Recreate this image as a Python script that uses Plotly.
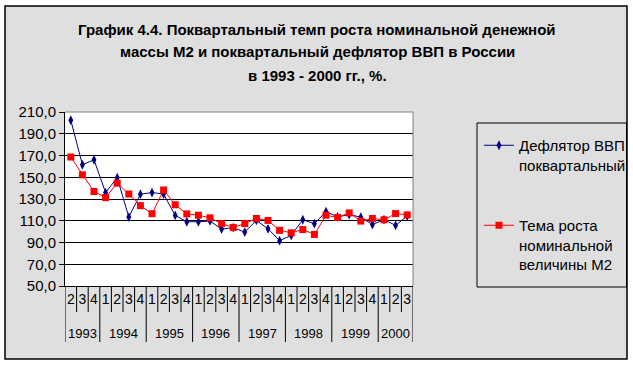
import plotly.graph_objects as go

years = ["1993"] * 3 + ["1994"] * 4 + ["1995"] * 4 + ["1996"] * 4 + ["1997"] * 4 + ["1998"] * 4 + ["1999"] * 4 + ["2000"] * 3
quarters = ["2", "3", "4"] + ["1", "2", "3", "4"] * 6 + ["1", "2", "3"]

deflator = [202.5, 161.5, 166.0, 135.9, 149.6, 113.4, 134.4, 135.9, 134.6, 114.9,
            109.1, 109.1, 109.8, 102.3, 103.6, 99.6, 110.3, 102.6, 91.7, 96.5,
            110.9, 107.3, 118.4, 113.5, 115.7, 113.3, 106.5, 111.0, 105.8, 114.3]
m2 = [168.6, 152.2, 136.9, 131.3, 144.6, 134.6, 123.9, 116.5, 138.3, 124.7,
      116.3, 115.1, 112.7, 107.4, 103.8, 107.4, 112.1, 110.3, 101.2, 98.9,
      101.9, 97.4, 115.1, 113.0, 117.2, 109.7, 112.1, 110.9, 116.6, 115.4]

name_defl = "Дефлятор ВВП<br>поквартальный"
name_m2 = "Тема роста<br>номинальной<br>величины М2"
title_lines = ["График 4.4. Поквартальный темп роста номинальной денежной",
               "массы М2 и поквартальный дефлятор ВВП в России",
               "в 1993 - 2000 гг., %."]

FONT = "Liberation Sans, Arial, sans-serif"

cats = [f"{y}-{q}-{i}" for i, (y, q) in enumerate(zip(years, quarters))]

fig = go.Figure()
fig.add_trace(go.Scatter(
    x=cats, y=deflator, name=name_defl, mode="lines+markers",
    line=dict(color="#000080", width=1),
    marker=dict(symbol="diamond-tall", size=7, color="#000080"),
    legendgroup="a",
))
fig.add_trace(go.Scatter(
    x=cats, y=m2, name=name_m2, mode="lines+markers",
    line=dict(color="#ff0000", width=1),
    marker=dict(symbol="square", size=7, color="#ff0000"),
    legendgroup="b",
))

L, R, T, B = 65, 413, 112, 286
W, H = 633, 365
pw, ph = R - L, B - T
def px(xp):
    return (xp - L) / pw
def py(yp):
    return (B - yp) / ph

shapes = [
    dict(type="rect", xref="paper", yref="paper", x0=px(5), x1=px(627), y0=py(359), y1=py(6),
         line=dict(color="black", width=1.5), fillcolor="#dfdfdf", layer="below"),
    dict(type="rect", xref="paper", yref="paper", x0=0, x1=1, y0=0, y1=1,
         line=dict(width=0), fillcolor="white", layer="below"),
    dict(type="line", xref="paper", yref="paper", x0=0, x1=1, y0=1, y1=1,
         line=dict(color="#808080", width=1), layer="above"),
    dict(type="line", xref="paper", yref="paper", x0=1, x1=1, y0=0, y1=1,
         line=dict(color="#808080", width=1), layer="above"),
    # legend frame
    dict(type="rect", xref="paper", yref="paper", x0=px(477), x1=px(626.5), y0=py(287), y1=py(123),
         line=dict(color="black", width=1), fillcolor="rgba(0,0,0,0)", layer="above"),
]

# quarter and year separators below the axis
n = len(cats)
for i in range(n + 1):
    new_year = i == 0 or i == n or years[i] != years[i - 1]
    shapes.append(dict(type="line", xref="x", yref="paper", x0=i - 0.5, x1=i - 0.5,
                       y0=0, y1=py(342) if new_year else py(312),
                       line=dict(color="black", width=1), layer="above"))

annotations = []
for k, line in enumerate(title_lines):
    annotations.append(dict(text=line, xref="paper", yref="paper", x=px(317), y=py(29 + 23 * k),
                            xanchor="center", yanchor="middle", showarrow=False,
                            font=dict(family=FONT, size=15, color="black", weight="bold")))

# year labels centred on their groups
start = 0
for i in range(1, n + 1):
    if i == n or years[i] != years[start]:
        annotations.append(dict(text=years[start], xref="x", yref="paper",
                                x=(start + i - 1) / 2, y=py(333),
                                xanchor="center", yanchor="middle", showarrow=False,
                                font=dict(family=FONT, size=13, color="black")))
        start = i

fig.update_layout(
    width=W, height=H, autosize=False,
    margin=dict(l=L, r=W - R, t=T, b=H - B, pad=0, autoexpand=False),
    paper_bgcolor="white", plot_bgcolor="white",
    separators=", ",
    font=dict(family=FONT, color="black", size=14),
    shapes=shapes,
    annotations=annotations,
    showlegend=True,
    legend=dict(x=479 / W, y=1 - 129 / H, xanchor="left", yanchor="top",
                xref="container", yref="container",
                bgcolor="rgba(0,0,0,0)", borderwidth=0,
                font=dict(family=FONT, size=15, color="black"),
                valign="top", tracegroupgap=38, itemwidth=30),
    xaxis=dict(type="category", range=[-0.5, n - 0.5], showgrid=False, showline=True,
               linecolor="black", linewidth=1, ticks="", tickangle=0,
               tickvals=cats, ticktext=quarters, automargin=False,
               tickfont=dict(family=FONT, size=14, color="black")),
    yaxis=dict(range=[50, 210], dtick=20, tick0=50, tickformat=".1f",
               showgrid=True, gridcolor="black", gridwidth=1,
               showline=True, linecolor="black", linewidth=1, automargin=False,
               ticks="outside", ticklen=5, tickcolor="black",
               tickfont=dict(family=FONT, size=15, color="black"),
               zeroline=False),
)

post = ("document.documentElement.style.overflow='hidden';"
        "document.body.style.margin='0';document.body.style.overflow='hidden';")

fig.write_html("out.html",
               config={"responsive": False, "displayModeBar": False},
               post_script=post)
